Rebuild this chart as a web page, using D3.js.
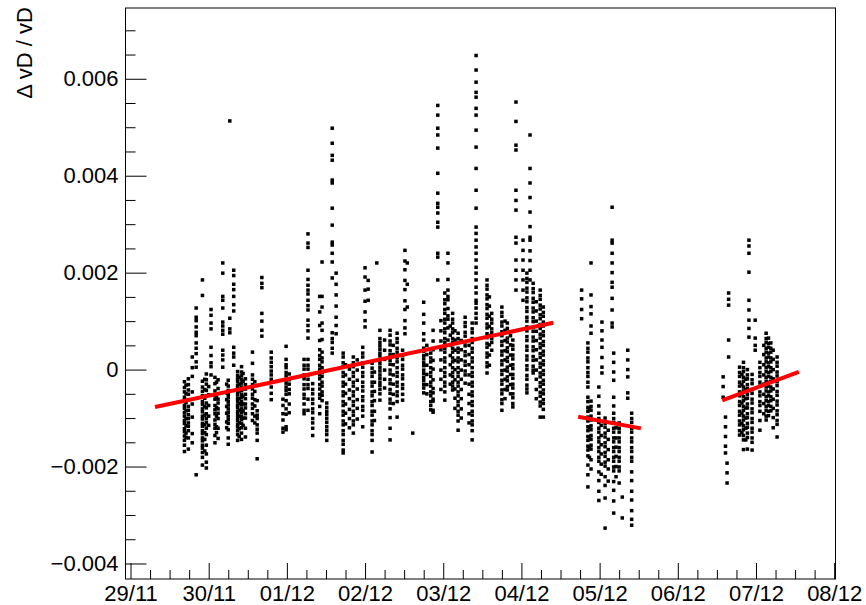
<!DOCTYPE html>
<html>
<head>
<meta charset="utf-8">
<script src="https://cdn.jsdelivr.net/npm/d3@7"></script>
<style>
  html, body { margin: 0; padding: 0; background: #fff; }
  svg { display: block; }
  text { font-family: "Liberation Sans", Arial, Helvetica, sans-serif; }
</style>
</head>
<body>
<svg id="chart" width="866" height="605"></svg>
<script>
// Drift-velocity deviation per run, values in units of 1e-4.
// Each entry: [time in days since 29/11 00:00 UTC, [ΔvD/vD values]]
const runsNov29toDec04 = [
  [0.69, [-2.5,-3.7,-4.6,-5.7,-6.3,-7.4,-8.0,-8.9,-9.6,-10.5,-11.1,-12.2,-12.8,-13.7,-14.6,-15.6,-16.9]],
  [0.71, [-3.2,-5.0,-6.8,-8.5,-10.1,-11.6,-13.1,-14.0]],
  [0.74, [-1.9,-3.1,-4.2,-5.1,-6.2,-7.6,-8.4,-9.3,-10.1,-11.0,-11.7,-12.6,-14.1,-16.4]],
  [0.79, [2.6,0.4,-1.4,-4.6,-7.1,-9.8,-13.2,-15.1]],
  [0.84, [12.7,10.8,10.1,8.8,7.7,7.0,5.5,4.4,3.3,1.6,0.5,-21.7]],
  [0.92, [18.5,15.3,-2.4,-3.6,-4.5,-5.4,-6.6,-7.2,-8.1,-8.7,-9.6,-10.2,-11.1,-11.7,-12.6,-13.2,-14.1,-14.7,-15.6,-16.2,-17.1,-18.1,-19.7]],
  [0.95, [-2.0,-4.1,-5.9,-7.6,-9.4,-11.4,-13.0,-14.4,-16.8]],
  [0.97, [-0.9,-2.1,-3.0,-4.3,-5.4,-6.9,-7.9,-9.1,-10.1,-10.9,-12.1,-13.4,-15.6,-17.4,-19.1,-20.3]],
  [1.00, [-3.5,-5.2,-7.4,-9.6,-11.5]],
  [1.03, [12.4,11.2,9.6,8.4,4.6,2.9,1.4,0.6,-1.1]],
  [1.08, [-1.6,-2.9,-4.4,-5.3,-6.1,-7.4,-8.3,-9.1,-10.4,-11.3,-12.1,-13.6,-15.1]],
  [1.10, [-2.6,-5.8,-7.8,-9.6,-11.8,-13.0]],
  [1.12, [-2.1,-3.9,-6.1,-6.9,-8.1,-9.0,-10.1,-12.1,-14.2]],
  [1.18, [22.0,19.9,15.1,14.3,12.7,9.8,9.0,8.1,7.3,4.0,3.0,2.0,0.5]],
  [1.23, [-3.0,-4.8,-6.2,-7.6,-9.0,-10.8,-12.0]],
  [1.25, [-2.2,-3.4,-4.3,-5.1,-5.8,-6.6,-7.3,-8.1,-8.8,-9.6,-10.3,-11.1,-12.4,-14.1,-15.4]],
  [1.27, [51.3,10.6,8.4,7.6]],
  [1.32, [20.5,19.4,17.6,16.5,15.1,13.4,12.1,4.6,3.4,2.6,0.9]],
  [1.37, [-0.4,-1.2,-1.9,-2.5,-3.3,-3.8,-4.6,-5.2,-5.9,-6.5,-7.3,-7.8,-8.6,-9.2,-9.9,-10.5,-11.3,-11.8,-12.6,-13.4,-14.6]],
  [1.39, [-1.6,-3.0,-4.4,-6.0,-7.0,-8.4,-9.6,-11.0,-12.2,-13.8]],
  [1.42, [0.6,-0.5,-1.3,-2.1,-2.8,-3.6,-4.3,-5.1,-5.8,-6.6,-7.3,-8.1,-8.8,-9.6,-10.3,-11.1,-12.0,-13.1,-14.4]],
  [1.44, [-0.8,-2.4,-4.0,-5.5,-7.1,-8.5,-10.0,-11.5]],
  [1.47, [-1.9,-3.1,-4.0,-5.1,-6.0,-7.1,-7.9,-9.1,-10.0,-12.1,-13.9]],
  [1.56, [3.6,1.3,-1.1,-2.0,-3.1,-4.0,-5.1,-5.9,-7.1,-8.0,-9.1,-10.5]],
  [1.59, [-2.5,-4.5,-6.2,-7.5,-9.6,-11.0]],
  [1.62, [-6.4,-8.5,-9.4,-10.1,-11.4,-12.3,-13.1,-14.6,-18.4]],
  [1.68, [19.0,17.8,16.9,11.6,10.0,8.1,6.9]],
  [1.80, [3.6,2.4,1.5,0.6,-0.3,-1.1,-2.0,-3.6,-4.9,-6.2]],
  [1.95, [-6.1,-7.4,-9.1,-10.4,-12.1,-12.9]],
  [1.99, [4.8,2.1,1.0,0.4,-0.6,-1.3,-2.1,-2.8,-3.6,-4.3,-5.1,-6.4,-8.1,-9.2,-11.8,-12.4]],
  [2.03, [-0.9,-2.1,-3.0,-4.1,-5.0,-7.1,-8.9]],
  [2.22, [2.1,0.9,0.1,-1.1,-1.9,-3.1,-4.0,-5.1,-5.9,-7.1,-8.4,-9.1]],
  [2.27, [28.0,26.1,25.2,20.5,18.6,17.4,16.4,15.6,14.3,13.2,12.3,10.2,9.1,8.0,6.5,2.1,0.9,0.1,-1.1,-2.0,-3.1,-3.9,-6.1,-8.4]],
  [2.33, [-2.9,-4.1,-5.0,-6.1,-7.0,-8.1,-8.9,-10.1,-11.0,-12.1,-13.6]],
  [2.42, [15.1,11.9,9.1,6.0,4.1,2.9,2.1,0.9,0.1,-1.1,-1.9,-3.1,-4.0,-5.1,-5.9,-7.6,-9.1]],
  [2.45, [22.2,15.1,12.9,9.6,8.1,6.2,3.6,2.4,1.6,0.4,-0.6,-1.4,-2.6,-3.4,-4.6,-5.3,-6.4]],
  [2.51, [-6.9,-7.8,-8.6,-9.3,-10.1,-10.9,-11.8,-12.6,-13.4,-14.6]],
  [2.58, [49.8,46.7,44.2,43.2,39.1,38.5,33.3,29.8,26.3,25.7,24.0,22.2,18.9,7.6,6.4,5.6,4.4,3.4]],
  [2.63, [19.9,17.6,15.4,13.1,10.8,9.1,7.4]],
  [2.72, [3.4,2.6,1.4,0.6,-0.6,-1.4,-2.6,-3.4,-4.6,-5.4,-6.6,-7.4,-8.6,-9.4,-10.6,-11.4,-12.6,-13.4,-14.6,-15.4,-16.6,-17.2]],
  [2.75, [1.0,-1.1,-3.0,-4.9,-7.1,-9.0,-11.2]],
  [2.80, [0.1,-2.0,-4.2,-6.0,-8.2,-10.1,-12.0]],
  [2.85, [2.6,1.4,0.6,-0.6,-1.4,-2.6,-3.4,-4.6,-5.4,-6.6,-7.4,-8.6,-9.4,-10.6,-11.4,-13.1]],
  [2.90, [2.0,-0.1,-2.2,-4.0,-6.2,-8.0,-10.2]],
  [2.97, [4.6,3.4,2.6,1.4,0.5,-0.6,-1.4,-2.6,-3.5,-4.4,-5.6,-6.4,-7.6,-8.4,-9.6,-11.8]],
  [3.00, [21.0,19.1,16.4,14.1,11.9,10.1,8.8]],
  [3.04, [18.4,16.6,14.3]],
  [3.09, [1.3,0.3,-0.6,-1.4,-2.6,-3.4,-4.6,-5.4,-6.6,-7.4,-8.6,-9.4,-10.6,-11.4,-12.6,-13.4,-14.6,-17.0]],
  [3.12, [-0.5,-2.6,-4.5,-6.4,-8.6,-10.5]],
  [3.15, [22.0]],
  [3.19, [8.1,6.4,5.6,4.9,4.2,3.4,2.8,1.9,1.2,0.4,-0.3,-1.1,-1.8,-2.6,-3.3,-4.1,-5.0,-6.3]],
  [3.25, [6.1,4.0,2.1,-0.1,-2.0,-3.8]],
  [3.32, [8.1,7.1,5.9,5.1,3.9,3.1,1.9,1.1,-0.1,-0.9,-2.1,-2.9,-4.1,-4.9,-6.1,-6.9,-8.1,-9.9,-12.1,-14.5]],
  [3.36, [5.0,3.1,1.0,-1.1,-3.0,-5.1,-7.0]],
  [3.41, [7.5,6.4,5.6,4.4,3.6,2.4,1.6,0.4,-0.6,-1.4,-2.6,-3.4,-4.6,-5.4,-6.6,-9.8]],
  [3.48, [4.0,2.9,2.1,0.9,0.1,-1.1,-1.9,-3.1,-3.9,-5.1,-6.3]],
  [3.51, [24.6,22.4,20.6,18.4,16.5,14.2,12.4,10.1,8.6,7.4]],
  [3.54, [22.0,17.6,12.9]],
  [3.61, [-13.1]],
  [3.75, [13.9,11.4,9.6,7.4,6.1,4.4,3.8,2.9,2.2,1.4,0.8,-0.1,-0.8,-1.6,-2.3,-3.1,-3.8,-4.8]],
  [3.79, [5.0,3.1,0.9,-1.0,-3.1,-5.0]],
  [3.84, [3.4,2.4,1.6,0.4,-0.6,-1.4,-2.6,-3.4,-4.6,-5.4,-6.6,-7.4,-8.3]],
  [3.87, [8.1,5.9,4.1,1.9,0.1,-2.1,-3.9,-4.8,-6.1,-6.5,-8.4,-8.8]],
  [3.93, [54.5,52.5,49.8,48.4,45.7,40.5,36.4,34.3,33.5,32.3,30.4,29.4,24.0,23.2,18.5]],
  [3.97, [10.1,8.0,5.9,4.1,2.0,-0.1,-2.0,-4.1]],
  [4.02, [15.8,14.4,13.6,12.4,11.6,10.4,9.6,8.4,7.6,6.4,5.6,4.4,3.6,2.4,1.6,0.4,-0.6,-1.4,-2.6,-3.4,-4.6,-6.3]],
  [4.06, [24.0,22.0,18.6,16.4,15.1,14.4,12.6,11.1,10.4,8.6,6.1]],
  [4.09, [9.0,7.1,5.0,2.9,1.0,-1.1,-3.0]],
  [4.12, [11.6,10.4,9.6,8.4,7.6,6.4,5.6,4.4,3.6,2.4,1.6,0.4,-0.6,-1.4,-2.6,-3.4,-4.2]],
  [4.15, [8.0,6.1,4.0,1.9,0.0,-2.1,-4.0,-5.9,-8.0]],
  [4.19, [7.5,6.4,5.6,4.4,3.6,2.4,1.6,0.4,-0.6,-1.4,-2.6,-3.4,-4.6,-5.4,-6.6,-7.4,-8.6,-9.4,-10.6,-12.5]],
  [4.23, [6.0,4.1,2.0,-0.1,-2.0,-4.1,-6.0,-8.1,-10.0]],
  [4.28, [10.8,9.7,8.9,7.7,6.9,5.7,4.9,3.7,2.9,1.7,0.9,-0.3,-1.1,-2.8]],
  [4.33, [5.0,3.1,1.0,-1.1,-3.0,-5.1,-7.0,-9.1,-11.0]],
  [4.37, [9.6,8.4,7.6,6.4,5.6,4.4,3.6,2.4,1.6,0.4,-0.6,-1.4,-2.6,-3.4,-4.6,-5.4,-6.6,-7.4,-8.6,-9.4,-10.6,-11.4,-12.6,-14.5]],
  [4.42, [64.8,61.8,59.3,57.2,56.2,53.9,52.5,49.4,45.9,41.5,37.0,33.3,29.4,28.1,26.7,25.3,24.0,22.6,21.1,19.9,18.5,17.0,15.8,14.3,13.7,12.7,11.6,10.6,9.6]],
  [4.56, [18.5,17.4,16.6,15.4,14.6,13.4,12.6,11.4,10.6,9.4,8.6,7.4,6.6,5.4,4.6,3.4,2.6,1.4,0.6,-0.7]],
  [4.59, [15.0,13.1,11.0,8.9,7.0,5.1,3.0,0.9]],
  [4.62, [11.6,10.4,9.6,8.4,7.6,6.4,5.6,4.0]],
  [4.75, [12.9,11.8,11.0,9.8,9.0,7.8,7.0,5.8,5.0,3.8,3.0,1.8,1.0,-0.2,-1.0,-2.2,-3.0,-4.2,-5.0,-6.2,-7.0,-8.4]],
  [4.79, [10.0,8.1,6.0,3.9,2.0,-0.1,-2.0,-4.1,-6.0]],
  [4.82, [9.6,8.5,7.7,6.5,5.7,4.5,3.7,2.5,1.7,0.5,-0.3,-1.5,-2.3,-3.5,-4.2]],
  [4.86, [7.0,5.1,3.0,0.9,-1.0,-3.1,-5.0]],
  [4.89, [6.1,5.0,4.2,3.0,2.2,1.0,0.2,-1.0,-1.8,-3.0,-3.8,-5.0,-5.8,-7.0,-7.7]],
  [4.93, [55.2,51.2,46.3,45.3,37.0,34.9,32.9,27.3,26.1,22.6,20.5,18.5,16.4]],
  [5.02, [26.7,24.6,22.6,20.5,18.5,16.4,14.3]],
  [5.07, [19.9,18.8,18.0,16.8,16.0,14.8,14.0,12.8,12.0,10.8,10.0,8.8,8.0,6.8,6.0,4.8,4.0,2.8,2.0,0.8,0.0,-1.2,-2.0,-3.2,-4.0,-4.8]],
  [5.11, [48.4,41.5,38.5,35.5,32.5,29.5,27.3,26.7,24.5,22.5,20.5,18.5]],
  [5.15, [17.8,16.7,15.9,14.7,13.9,12.7,11.9,10.7,9.9,8.7,7.9,6.7,5.9,4.7,3.9,2.7,1.9,0.7,-0.1,-0.7]],
  [5.19, [14.0,12.1,10.0,7.9,6.0,4.1,2.0,-0.1,-2.0,-4.1,-6.0]],
  [5.24, [16.4,15.3,14.5,13.3,12.5,11.3,10.5,9.3,8.5,7.3,6.5,5.3,4.5,3.3,2.5,1.3,0.5,-0.7,-1.5,-2.7,-3.5,-4.7,-5.5,-6.7,-7.5,-9.8]],
  [5.28, [12.9,11.8,11.0,9.8,9.0,7.8,7.0,5.8,5.0,3.8,3.0,1.8,1.0,-0.2,-1.0,-2.2,-3.0,-4.2,-5.0,-6.2,-7.0,-8.2,-9.8]]
];

const runsDec05 = [
  [5.77, [16.4,14.6,12.4,10.5]],
  [5.85, [5.5,4.4,3.6,2.4,1.6,0.4,-0.6,-1.4,-2.6,-3.6,-5.7,-6.6,-7.8,-8.6,-9.8,-10.6,-11.8,-12.6,-13.8,-14.6,-15.8,-16.6,-17.8,-19.7,-21.7,-24.2]],
  [5.87, [-8.0,-10.1,-12.0,-13.9,-16.0,-18.1]],
  [5.89, [22.0,15.4,13.0,11.5,9.0,7.5,-6.5,-7.6,-8.4,-9.6,-10.4,-11.6,-12.4,-13.6,-14.4,-15.6,-16.4,-18.6,-20.5]],
  [5.99, [-3.6,-5.5,-7.5,-9.0,-10.1,-10.9,-12.1,-12.9,-14.1,-14.9,-16.1,-16.9,-18.1,-18.9,-21.1,-22.9,-25.1,-27.0]],
  [6.02, [-11.5,-13.6,-15.5,-17.4,-19.5,-21.6]],
  [6.03, [9.8,8.0,6.1,4.6,2.5,0.5,-0.7]],
  [6.07, [-10.0,-11.1,-11.9,-13.1,-13.9,-15.1,-15.9,-17.1,-17.9,-19.1,-19.9,-22.1,-23.9,-26.5,-32.7]],
  [6.11, [-12.5,-14.4,-16.5,-18.6,-20.5,-23.0]],
  [6.16, [33.5,26.7,26.1,24.0,22.0,20.0,18.0,17.0,14.7,12.3,9.6,8.8]],
  [6.18, [3.4,1.5,-0.5,-2.2,-5.7,-7.5,-9.0,-10.1,-10.9,-12.1,-12.9,-14.1,-14.9,-16.1,-16.9,-18.1,-18.9,-20.1,-20.9,-23.1,-24.9,-27.1,-29.6]],
  [6.21, [-12.0,-14.1,-16.0,-17.9,-20.0,-22.1]],
  [6.25, [-11.0,-12.1,-12.9,-14.1,-14.9,-16.1,-16.9,-18.1,-18.9,-20.1,-20.9,-23.4]],
  [6.29, [-26.3,-30.6]],
  [6.36, [4.0,2.0,0.0,-1.5,-4.8,-5.9]],
  [6.41, [-9.0,-10.1,-10.9,-12.1,-12.9,-14.1,-14.9,-16.1,-16.9,-18.1,-18.9,-21.1,-22.9,-25.1,-26.9,-29.1,-30.9,-32.1]]
];

const runsDec07 = [
  [7.58, [-1.5,-3.5,-5.7]],
  [7.61, [-9.8,-11.8,-13.8,-15.8,-17.2]],
  [7.63, [-19.3,-21.3,-23.4]],
  [7.65, [15.8,14.5,13.3,6.1,2.6]],
  [7.79, [0.5,-0.6,-1.4,-2.6,-3.4,-4.6,-5.4,-6.6,-7.4,-8.6,-9.4,-10.6,-11.4,-12.6,-13.5]],
  [7.82, [-1.0,-3.1,-5.0,-6.9,-9.0,-11.1,-13.0]],
  [7.84, [1.5,0.4,-0.4,-1.6,-2.4,-3.6,-4.4,-5.6,-6.4,-7.6,-8.4,-9.6,-10.4,-11.6,-12.4,-13.6,-14.5,-16.5]],
  [7.87, [-2.0,-4.1,-6.0,-7.9,-10.0,-12.1,-14.5]],
  [7.89, [0.0,-1.1,-1.9,-3.1,-3.9,-5.1,-5.9,-7.1,-7.9,-9.1,-9.9,-11.1,-11.9,-13.1,-14.0,-16.4]],
  [7.91, [26.7,25.5,24.0,20.1,14.3,12.3,10.2,8.5,6.7]],
  [7.95, [-1.0,-2.1,-2.9,-4.1,-4.9,-6.1,-6.9,-8.1,-8.9,-10.1,-10.9,-12.1,-12.9,-14.1,-15.0,-16.6]],
  [7.99, [10.2,6.5,5.0,4.0]],
  [8.05, [1.5,0.4,-0.6,-1.4,-2.6,-3.4,-4.6,-5.4,-6.6,-7.4,-8.6,-10.5,-12.5]],
  [8.10, [5.0,3.1,1.0,-1.1,-3.0,-5.1,-7.0,-9.1]],
  [8.13, [7.5,6.4,5.6,4.4,3.6,2.4,1.6,0.4,-0.4,-1.6,-2.4,-3.6,-4.4,-5.6,-6.4,-7.6,-8.4,-9.6,-10.4]],
  [8.16, [6.5,5.4,4.6,3.4,2.6,1.4,0.6,-0.6,-1.4,-2.6,-3.4,-4.6,-5.4,-6.6,-7.4,-8.6,-9.5]],
  [8.19, [5.5,4.4,3.6,2.4,1.6,0.4,-0.4,-1.6,-2.4,-3.6,-4.4,-5.6,-6.4,-7.6,-8.5]],
  [8.22, [4.0,2.1,0.0,-1.9,-4.0,-6.1,-8.0,-9.9,-12.0]],
  [8.27, [2.6,1.5,0.7,-0.5,-1.3,-2.5,-3.3,-4.5,-5.3,-6.5,-7.3,-8.5,-9.3,-10.5,-11.3,-13.9]]
];

// Linear fits per period: [t0, value0, t1, value1] (value in units of 1e-4)
const fitSegments = [
  [0.313, -7.73, 5.407, 9.65],
  [5.726, -9.73, 6.528, -12.12],
  [7.568, -6.35, 8.549, -0.45]
];

const xTickLabels = ["29/11","30/11","01/12","02/12","03/12","04/12","05/12","06/12","07/12","08/12"];
const yTickValues = [-0.004, -0.002, 0, 0.002, 0.004, 0.006];
const yTickLabels = ["\u22120.004", "\u22120.002", "0", "0.002", "0.004", "0.006"];
const yTitle = "\u0394 vD / vD";

// ---------------------------------------------------------------------------
const DAY = 864e5;
const t0 = Date.UTC(2017, 10, 29);
const toDate = t => new Date(t0 + t * DAY);
const unit = 1e-4;

const frame = { left: 125.5, right: 835.5, top: 8, bottom: 579 };

const x = d3.scaleUtc()
  .domain([toDate(-0.064), toDate(9.017)])
  .range([frame.left, frame.right]);

const y = d3.scaleLinear()
  .domain([-0.00432, 0.00746])
  .range([frame.bottom, frame.top]);

const svg = d3.select("#chart");
svg.append("rect").attr("width", 866).attr("height", 605).attr("fill", "#fff");

// Flatten runs into points
const points = [];
for (const runs of [runsNov29toDec04, runsDec05, runsDec07]) {
  for (const [t, vals] of runs) {
    for (const v of vals) points.push({ t: toDate(t), v: v * unit });
  }
}

// Points: small filled squares
const ms = 3.5;
svg.append("g")
  .selectAll("rect")
  .data(points)
  .join("rect")
  .attr("x", d => x(d.t) - ms / 2)
  .attr("y", d => y(d.v) - ms / 2)
  .attr("width", ms)
  .attr("height", ms)
  .attr("fill", "#000");

// Fit lines
svg.append("g")
  .selectAll("line")
  .data(fitSegments)
  .join("line")
  .attr("x1", d => x(toDate(d[0])))
  .attr("y1", d => y(d[1] * unit))
  .attr("x2", d => x(toDate(d[2])))
  .attr("y2", d => y(d[3] * unit))
  .attr("stroke", "#ff0000")
  .attr("stroke-width", 4);

// X axis: major day ticks, minor 6-hour ticks, drawn inward
const dayTicks = xTickLabels.map((_, i) => toDate(i));
const hourTicks = d3.utcHour.every(6).range(toDate(0), toDate(9.01))
  .filter(d => d.getUTCHours() !== 0);

const xMinor = svg.append("g")
  .attr("transform", `translate(0,${frame.bottom})`)
  .call(d3.axisBottom(x).tickValues(hourTicks).tickSize(-9).tickSizeOuter(0).tickFormat(""));
const xMajor = svg.append("g")
  .attr("transform", `translate(0,${frame.bottom})`)
  .call(d3.axisBottom(x).tickValues(dayTicks).tickSize(-16).tickSizeOuter(0)
    .tickPadding(6).tickFormat((d, i) => xTickLabels[i]));

// Y axis: major and minor ticks drawn inward
const yMinorVals = d3.range(-40, 71, 5).map(k => k * 1e-4).filter(v => Math.abs(v * 1e4 % 20) > 1e-6);
const yMinor = svg.append("g")
  .attr("transform", `translate(${frame.left},0)`)
  .call(d3.axisLeft(y).tickValues(yMinorVals).tickSize(-10).tickSizeOuter(0).tickFormat(""));
const yMajor = svg.append("g")
  .attr("transform", `translate(${frame.left},0)`)
  .call(d3.axisLeft(y).tickValues(yTickValues).tickSize(-21).tickSizeOuter(0)
    .tickPadding(7).tickFormat((d, i) => yTickLabels[i]));

for (const g of [xMinor, xMajor, yMinor, yMajor]) {
  g.select(".domain").remove();
  g.selectAll("line").attr("stroke", "#000").attr("stroke-width", 1);
  g.selectAll("text")
    .attr("fill", "#000")
    .style("font-family", '"Liberation Sans", Arial, Helvetica, sans-serif')
    .style("font-size", "22px");
}

// Frame
svg.append("rect")
  .attr("x", frame.left).attr("y", frame.top)
  .attr("width", frame.right - frame.left)
  .attr("height", frame.bottom - frame.top)
  .attr("fill", "none").attr("stroke", "#000").attr("stroke-width", 1);

// Y axis title
svg.append("text")
  .attr("transform", "translate(32,7) rotate(-90)")
  .attr("text-anchor", "end")
  .style("font-size", "22px")
  .attr("fill", "#000")
  .text(yTitle);
</script>
</body>
</html>
